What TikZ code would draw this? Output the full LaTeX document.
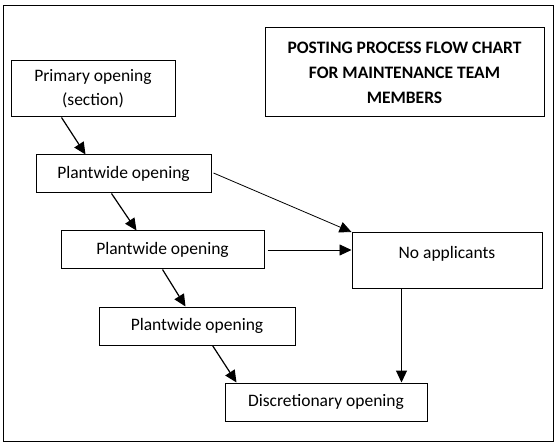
\documentclass[tikz,border=0pt]{standalone}
\usepackage{fontspec}
\setmainfont{Carlito}
\usepackage{tikz}
\usetikzlibrary{arrows.meta}

\begin{document}
\begin{tikzpicture}[x=1pt,y=-1pt,
  box/.style={draw, line width=1pt, inner sep=0pt, align=center,
    font=\fontsize{17.5}{24}\selectfont},
  flow/.style={-{Triangle[length=12pt,width=11pt]}, line width=1.2pt}]
\useasboundingbox (0,0) rectangle (556,443);
\draw[line width=1pt] (3,6) rectangle (553,441);

\node[box, minimum width=279, minimum height=89,
  font=\fontsize{17.5}{25}\selectfont\bfseries] (title) at (404.5,72.5)
  {POSTING PROCESS FLOW CHART\\FOR MAINTENANCE TEAM\\MEMBERS};

\node[box, minimum width=164, minimum height=56] (prim) at (93,89) {Primary opening\\(section)};
\node[box, minimum width=175, minimum height=38] (pw1) at (123.5,174) {Plantwide opening};
\node[box, minimum width=203, minimum height=38] (pw2) at (162.5,250) {Plantwide opening};
\node[box, minimum width=196, minimum height=38] (pw3) at (197,326) {Plantwide opening};
\node[box, minimum width=202, minimum height=38] (disc) at (326,402) {Discretionary opening};
\node[box, minimum width=190, text height=26pt, text depth=30pt, anchor=north] (noapp) at (447,232) {No applicants};

% down the left side
\draw[flow] ([xshift=51]prim.south west) -- ([xshift=50]pw1.north west);
\draw[flow] ([xshift=76]pw1.south west) -- ([xshift=76]pw2.north west);
\draw[flow] ([xshift=102]pw2.south west) -- ([xshift=87]pw3.north west);
\draw[flow] ([xshift=114]pw3.south west) -- ([xshift=12]disc.north west);

% to no applicants
\draw[flow, line width=0.8pt] ([xshift=2pt,yshift=1pt]pw1.east) -- (noapp.north west);
\draw[flow, line width=0.8pt] ([xshift=3pt]pw2.east) -- (pw2.east -| noapp.west);
\draw[flow] ([xshift=50]noapp.south west) -- ([xshift=50]noapp.south west |- disc.north);

\end{tikzpicture}
\end{document}
